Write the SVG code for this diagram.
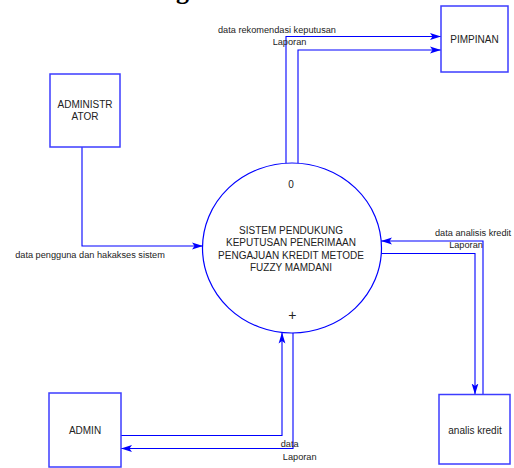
<svg xmlns="http://www.w3.org/2000/svg" width="514" height="468" viewBox="0 0 514 468">
<style>
  .box{fill:#fff;stroke:#3c3cff;stroke-width:1.5}
  .proc{fill:#fff;stroke:#0000ff;stroke-width:1.2}
  .conn{fill:none;stroke:#0000ff;stroke-width:1.1}
  .nt{font-family:"Liberation Sans",Arial,sans-serif;font-size:10px;fill:#222;text-anchor:middle}
  .lbl{font-family:"Liberation Sans",Arial,sans-serif;font-size:9.2px;fill:#222}
</style>
<defs>
  <marker id="arr" markerUnits="userSpaceOnUse" markerWidth="12" markerHeight="8" refX="11" refY="4" orient="auto">
    <path d="M0,0.6 L11,4 L0,7.4 L2.5,4 z" fill="#0000ff"/>
  </marker>
</defs>
<rect width="514" height="468" fill="#fff"/>
<text x="176" y="-1.5" font-family="'Liberation Serif',serif" font-weight="bold" font-size="26" fill="#000">g</text>

<g id="connectors">
  <path class="conn" d="M82,147 V246 H203" marker-end="url(#arr)"/>
  <path class="conn" d="M286,163.5 V36.5 H441" marker-end="url(#arr)"/>
  <path class="conn" d="M298,163.5 V50 H441" marker-end="url(#arr)"/>
  <path class="conn" d="M483,394.5 V241 H381" marker-end="url(#arr)"/>
  <path class="conn" d="M381,253.5 H475 V394.5" marker-end="url(#arr)"/>
  <path class="conn" d="M121,435.5 H282 V332.5" marker-end="url(#arr)"/>
  <path class="conn" d="M293,333 V448.5 H121" marker-end="url(#arr)"/>
  <text class="lbl" x="277" y="32.6" text-anchor="middle">data rekomendasi keputusan</text>
  <text class="lbl" x="289.5" y="45.3" text-anchor="middle">Laporan</text>
  <text class="lbl" x="90" y="257.6" text-anchor="middle">data pengguna dan hakakses sistem</text>
  <text class="lbl" x="435" y="236">data analisis kredit</text>
  <text class="lbl" x="466" y="248.3" text-anchor="middle">Laporan</text>
  <text class="lbl" x="289.7" y="447.3" text-anchor="middle">data</text>
  <text class="lbl" x="299.7" y="460" text-anchor="middle">Laporan</text>
</g>

<g id="process">
  <ellipse class="proc" cx="292" cy="248" rx="89.5" ry="85"/>
  <text class="nt" x="291" y="188">0</text>
  <text class="nt" x="291" y="233.6">SISTEM PENDUKUNG</text>
  <text class="nt" x="291" y="246.1">KEPUTUSAN PENERIMAAN</text>
  <text class="nt" x="291" y="258.6">PENGAJUAN KREDIT METODE</text>
  <text class="nt" x="291" y="271.1">FUZZY MAMDANI</text>
  <text class="nt" x="292.3" y="319.5" style="font-size:14px">+</text>
</g>

<g id="pimpinan">
  <rect class="box" x="441" y="6" width="67" height="66"/>
  <text class="nt" x="474.5" y="43.3">PIMPINAN</text>
</g>

<g id="administrator">
  <rect class="box" x="50" y="74" width="70" height="73"/>
  <text class="nt" x="85" y="107.9">ADMINISTR</text>
  <text class="nt" x="85" y="120.3">ATOR</text>
</g>

<g id="admin">
  <rect class="box" x="49" y="393" width="72" height="74"/>
  <text class="nt" x="85" y="434">ADMIN</text>
</g>

<g id="analis-kredit">
  <rect class="box" x="439" y="394.5" width="71" height="69.5"/>
  <text class="nt" x="475" y="433.5">analis kredit</text>
</g>
</svg>
